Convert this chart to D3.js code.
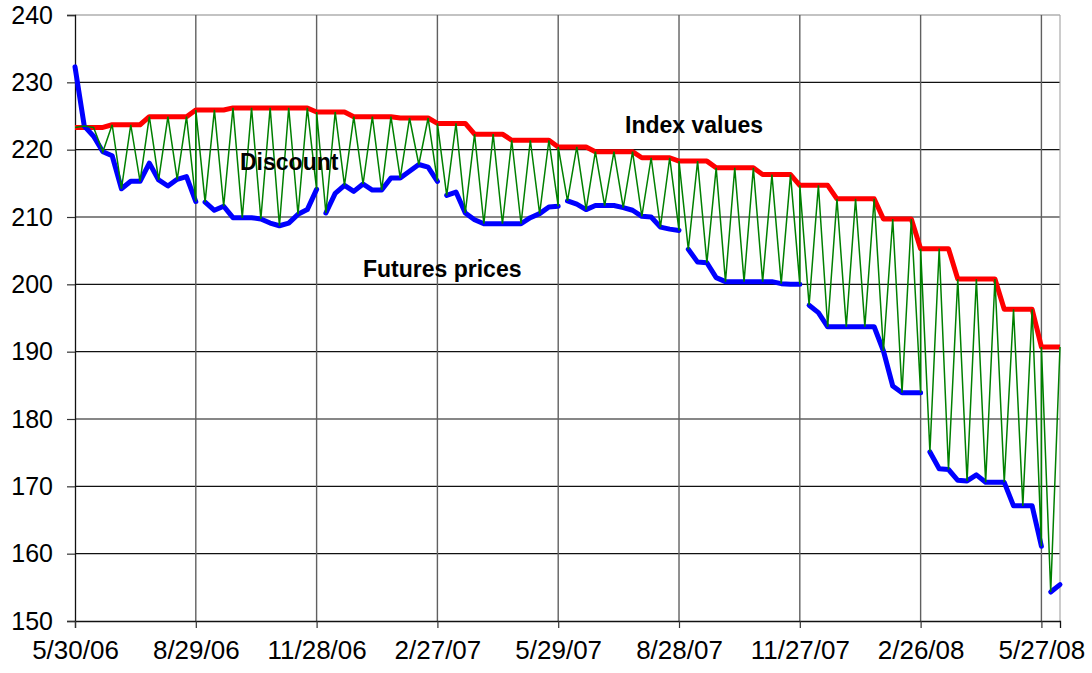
<!DOCTYPE html>
<html>
<head>
<meta charset="utf-8">
<script src="https://cdn.jsdelivr.net/npm/d3@7"></script>
<style>
  body { margin: 0; background: #fff; }
  svg { display: block; font-family: "Liberation Sans", Arial, sans-serif; }
</style>
</head>
<body>
<div id="chart"></div>
<script>
"use strict";
// weekly observations, first one on 5/30/06
const firstWeek = "2006-05-30";
const lastWeek = "2008-06-10";

// index values, one per week (monthly index, so plateaus)
const indexValues = [
  223.3, 223.3, 223.3, 223.3, 223.7, 223.7, 223.7, 223.7, 224.9, 224.9,
  224.9, 224.9, 224.9, 225.9, 225.9, 225.9, 225.9, 226.2, 226.2, 226.2,
  226.2, 226.2, 226.2, 226.2, 226.2, 226.2, 225.6, 225.6, 225.6, 225.6,
  224.9, 224.9, 224.9, 224.9, 224.9, 224.7, 224.7, 224.7, 224.7, 223.9,
  223.9, 223.9, 223.9, 222.3, 222.3, 222.3, 222.3, 221.4, 221.4, 221.4,
  221.4, 221.4, 220.4, 220.4, 220.4, 220.4, 219.7, 219.7, 219.7, 219.7,
  219.7, 218.8, 218.8, 218.8, 218.8, 218.3, 218.3, 218.3, 218.3, 217.3,
  217.3, 217.3, 217.3, 217.3, 216.3, 216.3, 216.3, 216.3, 214.7, 214.7,
  214.7, 214.7, 212.7, 212.7, 212.7, 212.7, 212.7, 209.7, 209.7, 209.7,
  209.7, 205.3, 205.3, 205.3, 205.3, 200.8, 200.8, 200.8, 200.8, 200.8,
  196.3, 196.3, 196.3, 196.3, 190.7, 190.7, 190.7
];

// futures prices, one per week (front contract)
const futuresValues = [
  232.3, 223.5, 222.0, 219.7, 219.1, 214.2, 215.3, 215.3, 218.0, 215.5,
  214.6, 215.6, 216.0, 212.3, 212.2, 211.0, 211.6, 209.9, 209.9, 209.9,
  209.7, 209.1, 208.7, 209.1, 210.4, 211.1, 214.1, 210.6, 213.5, 214.7,
  213.8, 214.9, 214.0, 214.0, 215.8, 215.8, 216.8, 217.8, 217.4, 215.3,
  213.2, 213.7, 210.6, 209.6, 209.0, 209.0, 209.0, 209.0, 209.0, 209.9,
  210.5, 211.5, 211.6, 212.4, 211.9, 211.1, 211.7, 211.7, 211.7, 211.4,
  211.0, 210.1, 210.0, 208.5, 208.2, 208.0, 205.2, 203.3, 203.2, 201.0,
  200.4, 200.4, 200.4, 200.4, 200.4, 200.4, 200.1, 200.0, 200.0, 196.9,
  195.8, 193.7, 193.7, 193.7, 193.7, 193.7, 193.7, 190.1, 184.9, 183.9,
  183.9, 183.9, 175.1, 172.6, 172.5, 170.9, 170.8, 171.7, 170.6, 170.6,
  170.6, 167.1, 167.1, 167.1, 161.1, 154.3, 155.4
];

// weeks where a new futures contract starts (line breaks there)
const rollWeeks = [14, 27, 40, 53, 66, 79, 92, 105];
// quarterly weeks where the discount zigzag restarts
const quarterWeeks = [0, 13, 26, 39, 52, 65, 78, 91, 104];

const tickLabels = ["5/30/06", "8/29/06", "11/28/06", "2/27/07", "5/29/07",
  "8/28/07", "11/27/07", "2/26/08", "5/27/08"];
const yTicks = [150, 160, 170, 180, 190, 200, 210, 220, 230, 240];

const width = 1092, height = 673;
const margin = { top: 15, right: 32, bottom: 52, left: 75 };

const parseIso = d3.utcParse("%Y-%m-%d");
const parseTick = d3.utcParse("%m/%d/%y");
const start = parseIso(firstWeek);
const weekDate = w => d3.utcDay.offset(start, 7 * w);

const x = d3.scaleUtc()
  .domain([start, parseIso(lastWeek)])
  .range([margin.left, width - margin.right]);
const y = d3.scaleLinear()
  .domain([150, 240])
  .range([height - margin.bottom, margin.top]);

const svg = d3.select("#chart").append("svg")
  .attr("width", width)
  .attr("height", height);

const tickDates = tickLabels.map(parseTick);

// horizontal gridlines
svg.append("g").selectAll("line")
  .data(yTicks.slice(1))
  .join("line")
  .attr("x1", margin.left).attr("x2", width - margin.right)
  .attr("y1", d => y(d)).attr("y2", d => y(d))
  .attr("stroke", d => d === 240 ? "#888" : "#111")
  .attr("stroke-width", 1.2);

// vertical gridlines
svg.append("g").selectAll("line")
  .data(tickDates.slice(1))
  .join("line")
  .attr("x1", d => x(d)).attr("x2", d => x(d))
  .attr("y1", margin.top).attr("y2", height - margin.bottom)
  .attr("stroke", "#606060")
  .attr("stroke-width", 1.4);

// right border of plot area
svg.append("line")
  .attr("x1", width - margin.right).attr("x2", width - margin.right)
  .attr("y1", margin.top).attr("y2", height - margin.bottom)
  .attr("stroke", "#aaa").attr("stroke-width", 1.2);

// axes
const yAxis = svg.append("g")
  .attr("transform", `translate(${margin.left},0)`)
  .call(d3.axisLeft(y).tickValues(yTicks).tickSize(8).tickPadding(14));
const xAxis = svg.append("g")
  .attr("transform", `translate(0,${height - margin.bottom})`)
  .call(d3.axisBottom(x).tickValues(tickDates).tickSize(7).tickPadding(13)
    .tickFormat((d, i) => tickLabels[i]));

[yAxis, xAxis].forEach(ax => {
  ax.select(".domain").attr("stroke", "#111").attr("stroke-width", 1.3);
  ax.selectAll(".tick line").attr("stroke", "#333").attr("stroke-width", 1.2);
  ax.selectAll("text").attr("fill", "#000")
    .style("font-family", "'Liberation Sans', Arial, sans-serif");
});
yAxis.selectAll("text").style("font-size", "25px");
xAxis.selectAll("text").style("font-size", "26px");

// discount zigzag: alternates index / futures within each quarter
const zigzag = [];
quarterWeeks.forEach(s => {
  const e = Math.min(s + 13, indexValues.length - 1);
  for (let w = s; w <= e; w++) {
    zigzag.push({ w, v: (w - s) % 2 === 0 ? indexValues[w] : futuresValues[w] });
  }
});

const line = d3.line()
  .x(d => x(weekDate(d.w)))
  .y(d => y(d.v));

const indexPts = indexValues.map((v, w) => ({ w, v }));
svg.append("path")
  .datum(indexPts)
  .attr("d", line)
  .attr("fill", "none")
  .attr("stroke", "#ff0000")
  .attr("stroke-width", 5)
  .attr("stroke-linejoin", "round");

// futures segments, broken at each contract roll
const bounds = [0, ...rollWeeks, futuresValues.length];
const futSegments = d3.pairs(bounds).map(([a, b]) =>
  d3.range(a, b).map(w => ({ w, v: futuresValues[w] })));
svg.append("g").selectAll("path")
  .data(futSegments)
  .join("path")
  .attr("d", line)
  .attr("fill", "none")
  .attr("stroke", "#0000ff")
  .attr("stroke-width", 5)
  .attr("stroke-linejoin", "round")
  .attr("stroke-linecap", "round");

svg.append("path")
  .datum(zigzag)
  .attr("d", line)
  .attr("fill", "none")
  .attr("stroke", "#008000")
  .attr("stroke-width", 1.5)
  .attr("stroke-linejoin", "miter");

// labels
const labels = [
  { text: "Index values", x: 625, y: 133 },
  { text: "Discount", x: 240, y: 170 },
  { text: "Futures prices", x: 363, y: 277 }
];
svg.append("g").selectAll("text")
  .data(labels)
  .join("text")
  .attr("x", d => d.x)
  .attr("y", d => d.y)
  .style("font-size", "23px")
  .style("font-weight", "bold")
  .attr("fill", "#000")
  .text(d => d.text);
</script>
</body>
</html>
